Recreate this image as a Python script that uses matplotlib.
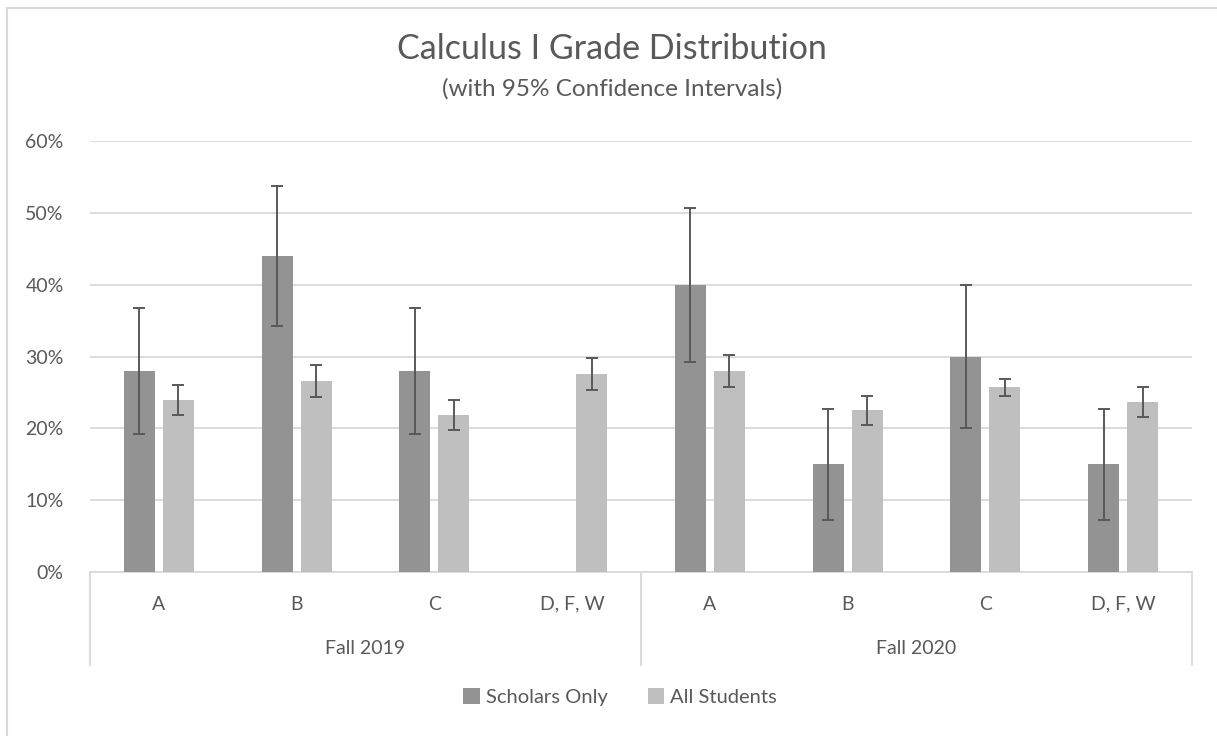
import matplotlib
matplotlib.use("Agg")
import matplotlib.pyplot as plt
from matplotlib.lines import Line2D
import numpy as np

plt.rcParams['font.family'] = ['Lato', 'DejaVu Sans']

grades = ["A", "B", "C", "D, F, W", "A", "B", "C", "D, F, W"]
terms = ["Fall 2019", "Fall 2020"]
scholars = [0.28, 0.44, 0.28, 0.0, 0.40, 0.15, 0.30, 0.15]
scholars_err = [0.088, 0.097, 0.088, None, 0.107, 0.0775, 0.10, 0.0775]
all_students = [0.24, 0.266, 0.218, 0.276, 0.28, 0.225, 0.257, 0.237]
all_err = [0.021, 0.022, 0.021, 0.022, 0.022, 0.0205, 0.012, 0.021]
yticks = [0, 0.1, 0.2, 0.3, 0.4, 0.5, 0.6]

W, H = 1217, 736
fig = plt.figure(figsize=(W / 100, H / 100), dpi=100)
fig.patch.set_facecolor("white")

left, right, top, bottom = 90, 1192, 141, 572
ax = fig.add_axes([left / W, 1 - bottom / H, (right - left) / W, (bottom - top) / H])

text_c = "#595959"
grid_c = "#D9D9D9"
c1 = "#939393"
c2 = "#BFBFBF"

x = np.arange(len(grades))
bw = 0.225
off = 0.142
ax.bar(x - off, scholars, bw, color=c1, label="Scholars Only", zorder=3)
ax.bar(x + off, all_students, bw, color=c2, label="All Students", zorder=3)

idx = [i for i, e in enumerate(scholars_err) if e is not None]
ax.errorbar(x[idx] - off, [scholars[i] for i in idx], yerr=[scholars_err[i] for i in idx],
            fmt="none", ecolor=text_c, elinewidth=1.4, capsize=4.3, capthick=1.4, zorder=4)
ax.errorbar(x + off, all_students, yerr=all_err,
            fmt="none", ecolor=text_c, elinewidth=1.4, capsize=4.3, capthick=1.4, zorder=4)

ax.set_xlim(-0.5, len(grades) - 0.5)
ax.set_ylim(0, 0.6)
ax.set_yticks(yticks)
ax.set_yticklabels([f"{int(round(v*100))}%" for v in yticks], fontsize=14, color=text_c)
ax.tick_params(axis="y", length=0, pad=19)
ax.set_xticks([])
for s in ["top", "right", "left"]:
    ax.spines[s].set_visible(False)
ax.spines["bottom"].set_color(grid_c)
ax.spines["bottom"].set_linewidth(1.3)
ax.yaxis.grid(True, color=grid_c, linewidth=1.3, zorder=0)
ax.set_axisbelow(True)

axh = bottom - top
tr = ax.get_xaxis_transform()
for i, g in enumerate(grades):
    ax.text(i, -(604 - bottom) / axh, g, transform=tr, ha="center", va="center",
            fontsize=14, color=text_c)
for j, t in enumerate(terms):
    ax.text(1.5 + 4 * j, -(648 - bottom) / axh, t, transform=tr, ha="center", va="center",
            fontsize=14, color=text_c)
for xs in [-0.5, 3.5, 7.5]:
    ax.add_line(Line2D([xs, xs], [0, -(665 - bottom) / axh], transform=tr, color=grid_c,
                       linewidth=1.3, clip_on=False))

fig.text(612 / W, 1 - 49 / H, "Calculus I Grade Distribution",
         ha="center", va="center", fontsize=24.5, color=text_c)
fig.text(612 / W, 1 - 89 / H, "(with 95% Confidence Intervals)",
         ha="center", va="center", fontsize=17.5, color=text_c)

fig.legend(loc="center", bbox_to_anchor=(620 / W, 1 - 697 / H), ncol=2, frameon=False,
           fontsize=14.5, labelcolor=text_c, handlelength=0.8, handleheight=0.8,
           handletextpad=0.3, columnspacing=2.0)

# outer chart border (left and top edges visible)
fig.add_artist(Line2D([6.5 / W, 6.5 / W], [0, 1 - 7.5 / H], transform=fig.transFigure,
                      color=grid_c, linewidth=1.5))
fig.add_artist(Line2D([6.5 / W, 1], [1 - 7.5 / H, 1 - 7.5 / H], transform=fig.transFigure,
                      color=grid_c, linewidth=1.5))

fig.savefig("out.png", dpi=100)
